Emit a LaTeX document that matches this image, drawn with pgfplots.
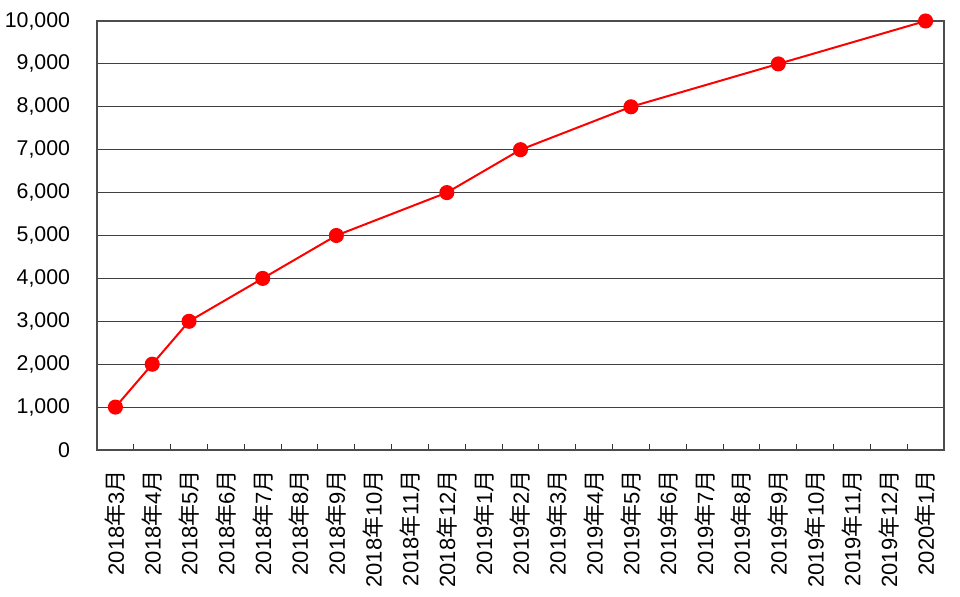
\documentclass[border=0pt]{standalone}
\usepackage{fontspec}
\setmainfont{Liberation Sans}
\newfontfamily\cjk{Noto Sans CJK JP}
\usepackage{pgfplots}
\pgfplotsset{compat=1.18}
\newcommand{\nen}{{\cjk 年}}
\newcommand{\tsuki}{{\cjk 月}}
\begin{document}
\begin{tikzpicture}
\begin{axis}[
  scale only axis,
  width=635.25pt, height=321.75pt,
  xmin=-0.5, xmax=22.5, ymin=0, ymax=10000,
  ytick={0,1000,...,10000},
  scaled y ticks=false,
  xtick={0,...,22},
  xticklabels={2018\nen3\tsuki,2018\nen4\tsuki,2018\nen5\tsuki,2018\nen6\tsuki,2018\nen7\tsuki,2018\nen8\tsuki,2018\nen9\tsuki,2018\nen10\tsuki,2018\nen11\tsuki,2018\nen12\tsuki,2019\nen1\tsuki,2019\nen2\tsuki,2019\nen3\tsuki,2019\nen4\tsuki,2019\nen5\tsuki,2019\nen6\tsuki,2019\nen7\tsuki,2019\nen8\tsuki,2019\nen9\tsuki,2019\nen10\tsuki,2019\nen11\tsuki,2019\nen12\tsuki,2020\nen1\tsuki},
  minor xtick={0.5,1.5,...,21.5},
  major tick length=0pt,
  minor tick length=4.5pt,
  tick align=inside,
  xtick pos=lower, ytick pos=left,
  tick style={black!80, line width=0.8pt},
  ymajorgrids,
  grid style={black!75, line width=0.75pt},
  axis line style={black!70, line width=1pt},
  xticklabel style={rotate=90, anchor=east, font=\fontsize{16.5}{19}\selectfont, inner sep=0pt},
  xticklabel shift=15pt,
  yticklabel style={font=\fontsize{16}{19}\selectfont, anchor=east, inner sep=0pt,
    /pgf/number format/.cd, fixed, precision=0, 1000 sep={,}, assume math mode=true},
  yticklabel shift=20pt,
]
\addplot[red, line width=1.5pt, mark=*, mark size=4.9pt, mark options={fill=red, draw=red}]
  coordinates {(0,1000) (1,2000) (2,3000) (4,4000) (6,5000) (9,6000) (11,7000) (14,8000) (18,9000) (22,10000)};
\end{axis}
\pgfresetboundingbox
\path ([shift={(-72.75pt,-109.5pt)}]current axis.south west) rectangle ([shift={(12pt,15.75pt)}]current axis.north east);
\end{tikzpicture}
\end{document}
